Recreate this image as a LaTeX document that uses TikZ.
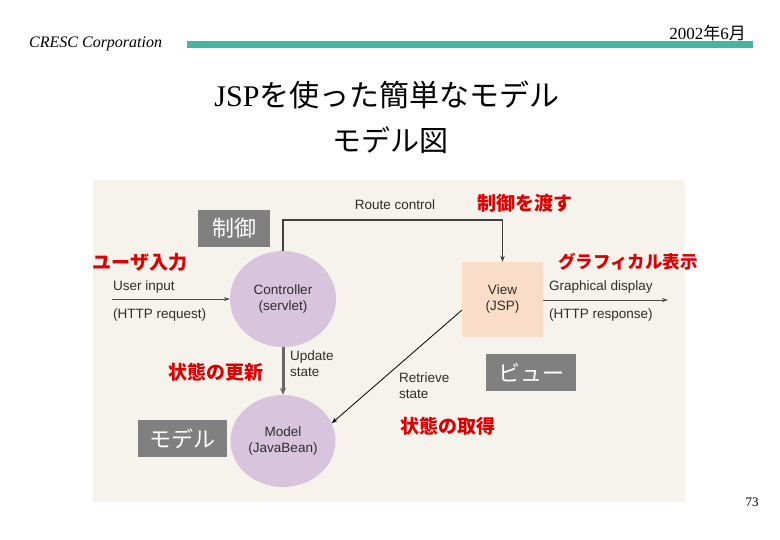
\documentclass[tikz,border=0pt]{standalone}
\usepackage{fontspec}
\setmainfont{Liberation Serif}
\setsansfont{Liberation Sans}
\newfontfamily\cjk{Noto Sans CJK JP}
\usetikzlibrary{shapes.geometric,arrows.meta,calc}
\definecolor{barcol}{RGB}{70,180,160}
\definecolor{bgcol}{RGB}{245,243,236}
\definecolor{lilac}{RGB}{216,196,220}
\definecolor{peach}{RGB}{250,221,200}
\definecolor{redlab}{RGB}{222,0,0}
\definecolor{txtcol}{RGB}{45,45,45}
\definecolor{boxgray}{RGB}{128,128,128}
\tikzset{
  difont/.style={font=\sffamily\fontsize{13.5}{16}\selectfont, text=txtcol, align=center},
  redlabel/.style={font=\cjk\bfseries\fontsize{19}{20}\selectfont, text=redlab, inner sep=0pt},
  graybox/.style={fill=boxgray, text=white, font=\cjk\fontsize{22}{24}\selectfont, inner sep=0pt},
  ellnode/.style={ellipse, fill=lilac, inner sep=0pt, difont},
  conn/.style={draw=black!75, line width=1.3pt, -{Stealth[length=6pt,width=4.5pt]}},
  thinconn/.style={draw=black!70, line width=0.8pt, -{Stealth[length=6pt,width=4pt]}},
  updconn/.style={draw=black!60, line width=3pt, -{Stealth[length=7pt,width=6pt]}},
}
\begin{document}
\begin{tikzpicture}[x=1pt,y=-1pt]
\useasboundingbox (0,0) rectangle (780,540);
\fill[white] (0,0) rectangle (780,540);

% header
\node[anchor=west, inner sep=0pt, font=\itshape\fontsize{16}{18}\selectfont] (corp) at (29,44) {CRESC Corporation};
\node[anchor=west, fill=barcol, minimum width=566pt, minimum height=7pt, inner sep=0pt] (bar) at (187,44.5) {};
\node[anchor=east, inner sep=0pt, font=\fontsize{17}{18}\selectfont] (date) at (746,33) {2002{\cjk 年}6{\cjk 月}};

% titles
\node[inner sep=0pt, font=\fontsize{30}{32}\selectfont] (title) at (387,95) {JSP{\cjk を使った簡単なモデル}};
\node[inner sep=0pt, font=\cjk\fontsize{29}{32}\selectfont] (subtitle) at (390,140) {モデル図};

% diagram background
\fill[bgcol] (93,180) rectangle (685,502);

% main nodes
\node[ellnode, minimum width=106pt, minimum height=96pt] (ctrl) at (283,299) {Controller\\(servlet)};
\node[ellnode, minimum width=105pt, minimum height=92pt] (model) at (283,441) {Model\\(JavaBean)};
\node[fill=peach, minimum width=81pt, minimum height=75pt, inner sep=0pt, difont] (view) at (502.5,299.5) {View\\(JSP)};

% connectors
\coordinate (rc) at (283,220);
\draw[conn] (ctrl.north) -- (rc) -| (view.north);
\node[difont, anchor=base] (rctext) at (395,210) {Route control};

\coordinate (uin) at (112,299);
\draw[thinconn] (uin) -- (ctrl.west);
\node[difont, anchor=base west, inner sep=0pt] (uintext) at (113,291) {User input};
\node[difont, anchor=base west, inner sep=0pt] (httpreq) at (113,319) {(HTTP request)};

\coordinate (gout) at (668,300);
\draw[thinconn] (view.east |- gout) -- (gout);
\node[difont, anchor=base west, inner sep=0pt] (gtext) at (549,291) {Graphical display};
\node[difont, anchor=base west, inner sep=0pt] (httpres) at (549,319) {(HTTP response)};

\draw[updconn] (ctrl.south) -- (model.north);
\node[difont, anchor=north west, align=left, inner sep=0pt] (updtext) at (290,351) {Update\\state};

\draw[thinconn, draw=black] ([yshift=27pt]view.south west) -- (model.20);
\node[difont, anchor=north west, align=left, inner sep=0pt] (rettext) at (399,373) {Retrieve\\state};

% gray boxes
\node[graybox, minimum width=72pt, minimum height=37pt] (gctrl) at (234,228.5) {制御};
\node[graybox, minimum width=89pt, minimum height=37pt] (gmodel) at (182.5,438.5) {モデル};
\node[graybox, minimum width=90pt, minimum height=37pt] (gview) at (531,372.5) {ビュー};

% red labels
\node[redlabel] (ruser) at (140,262) {ユーザ入力};
\node[redlabel] (rpass) at (525,203) {制御を渡す};
\node[redlabel, font=\cjk\bfseries\fontsize{17.5}{20}\selectfont] (rgraph) at (628,262) {グラフィカル表示};
\node[redlabel] (rupd) at (216,372) {状態の更新};
\node[redlabel] (rget) at (448,426) {状態の取得};

% page number
\node[inner sep=0pt, font=\fontsize{13}{14}\selectfont] (page) at (752,502) {73};
\end{tikzpicture}
\end{document}
